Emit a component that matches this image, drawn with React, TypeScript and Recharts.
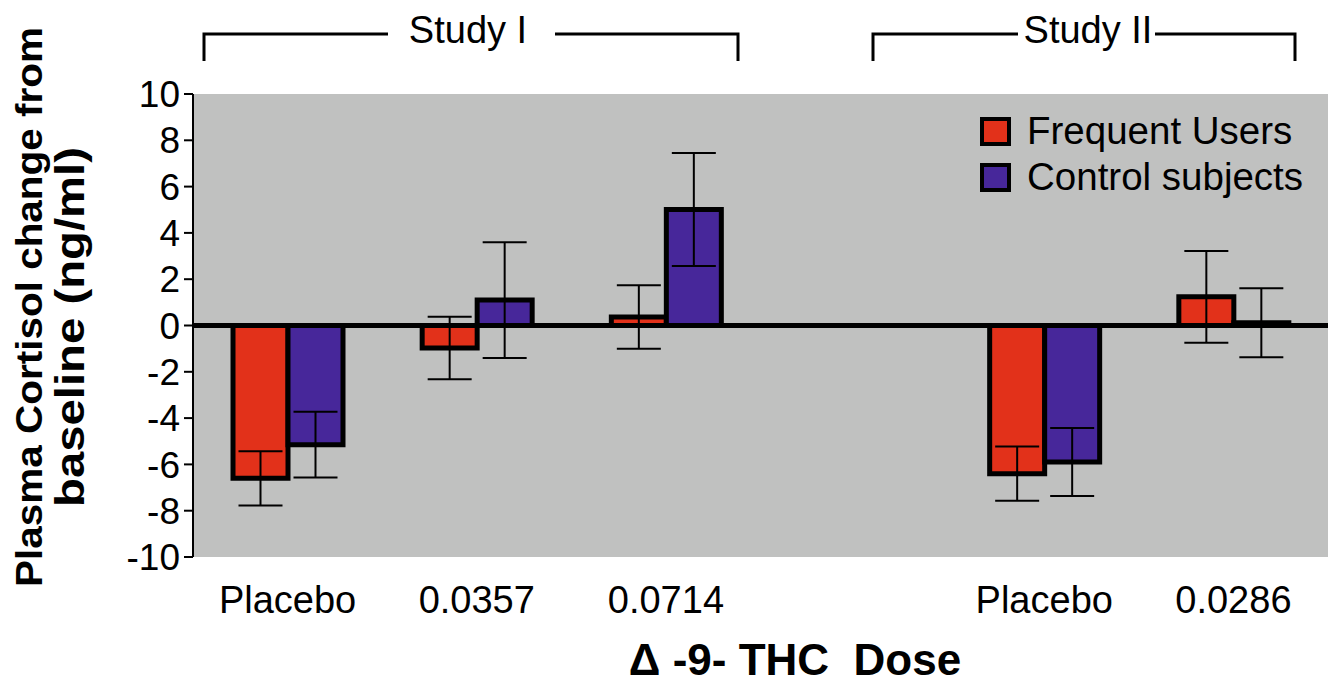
import React from 'react';
import {
  BarChart,
  Bar,
  XAxis,
  YAxis,
  CartesianGrid,
  ErrorBar,
  ReferenceLine,
  Legend,
  Customized,
} from 'recharts';

// ---------- data ----------
const categories = ['Placebo', '0.0357', '0.0714', '', 'Placebo', '0.0286'];
const frequentUsers = [-6.6, -0.97, 0.37, null, -6.4, 1.24];
const frequentUsersErr = [1.17, 1.35, 1.37, null, 1.17, 1.98];
const controlSubjects = [-5.15, 1.1, 5.01, null, -5.9, 0.12];
const controlSubjectsErr = [1.42, 2.5, 2.44, null, 1.47, 1.49];
const yTicks = [-10, -8, -6, -4, -2, 0, 2, 4, 6, 8, 10];
const seriesNames = ['Frequent Users', 'Control subjects'];
const seriesColors = ['#E2311A', '#47279A'];
const studyLabels = ['Study I', 'Study II'];
const yTitleLines = ['Plasma Cortisol change from', 'baseline (ng/ml)'];
const xTitle = '\u0394 -9- THC  Dose';

const data = categories.map((c, i) => ({
  id: 'c' + i,
  label: c,
  fu: frequentUsers[i],
  fuErr: frequentUsersErr[i],
  cs: controlSubjects[i],
  csErr: controlSubjectsErr[i],
}));

const FONT = '"Liberation Sans", Arial, Helvetica, sans-serif';
const W = 1329;
const H = 680;

const XTick = (props: any) => {
  const { x, y, index } = props;
  return (
    <text
      x={x}
      y={y}
      dy={48}
      textAnchor="middle"
      fontFamily={FONT}
      fontSize={38}
      fill="#000"
    >
      {categories[index]}
    </text>
  );
};

const Annotations = () => {
  const br = [
    { l: 196, r: 730, gl: 380, gr: 547, cx: 460 },
    { l: 865, r: 1287, gl: 1010, gr: 1147, cx: 1080 },
  ];
  return (
    <g>
      {br.map((b, i) => (
        <g key={i} stroke="#000" strokeWidth={3} fill="none">
          <polyline points={`${b.l},53 ${b.l},26 ${b.gl},26`} />
          <polyline points={`${b.gr},26 ${b.r},26 ${b.r},53`} />
        </g>
      ))}
      {br.map((b, i) => (
        <text
          key={'t' + i}
          x={b.cx}
          y={35}
          textAnchor="middle"
          fontFamily={FONT}
          fontSize={38}
          fill="#000"
        >
          {studyLabels[i]}
        </text>
      ))}
      <text
        transform="translate(34,299) rotate(-90)"
        textAnchor="middle"
        fontFamily={FONT}
        fontWeight="bold"
        fontSize={37}
        fill="#000"
        textLength={560}
        lengthAdjust="spacingAndGlyphs"
      >
        {yTitleLines[0]}
      </text>
      <text
        transform="translate(76,319) rotate(-90)"
        textAnchor="middle"
        fontFamily={FONT}
        fontWeight="bold"
        fontSize={41}
        fill="#000"
        textLength={360}
        lengthAdjust="spacingAndGlyphs"
      >
        {yTitleLines[1]}
      </text>
      <text
        x={787}
        y={667}
        textAnchor="middle"
        fontFamily={FONT}
        fontWeight="bold"
        fontSize={44}
        fill="#000"
        style={{ whiteSpace: 'pre' }}
      >
        {xTitle}
      </text>
    </g>
  );
};

const LegendContent = () => (
  <div style={{ fontFamily: FONT, fontSize: 38.5, color: '#000' }}>
    {seriesNames.map((n, i) => (
      <div
        key={n}
        style={{ display: 'flex', alignItems: 'center', height: 46, whiteSpace: 'nowrap' }}
      >
        <span
          style={{
            display: 'inline-block',
            width: 23,
            height: 21,
            background: seriesColors[i],
            border: '4px solid #000',
            marginRight: 16,
          }}
        />
        <span>{n}</span>
      </div>
    ))}
  </div>
);

export default function App() {
  return (
    <div style={{ width: W, height: H }}>
      <BarChart
        width={W}
        height={H}
        data={data}
        margin={{ top: 86, right: 9, bottom: 71, left: 0 }}
        barSize={55}
        barGap={0}
      >
        <CartesianGrid fill="#C0C1C0" stroke="none" horizontal={false} vertical={false} />
        <XAxis
          dataKey="id"
          axisLine={false}
          tickLine={false}
          height={60}
          interval={0}
          tick={<XTick />}
        />
        <YAxis
          type="number"
          domain={[-10, 10]}
          ticks={yTicks}
          interval={0}
          width={185}
          tickSize={9}
          tickMargin={4}
          axisLine={{ stroke: '#000', strokeWidth: 2 }}
          tickLine={{ stroke: '#000', strokeWidth: 2 }}
          tick={{ fill: '#000', fontSize: 37, fontFamily: FONT }}
        />
        <Legend
          layout="horizontal"
          verticalAlign="middle"
          align="center"
          content={<LegendContent />}
          wrapperStyle={{ left: 972, top: 100, width: 345, height: 92 }}
        />
        <Bar
          dataKey="fu"
          name={seriesNames[0]}
          fill={seriesColors[0]}
          stroke="#000"
          strokeWidth={5}
          isAnimationActive={false}
        >
          <ErrorBar dataKey="fuErr" width={22} stroke="#000" strokeWidth={2} direction="y" />
        </Bar>
        <Bar
          dataKey="cs"
          name={seriesNames[1]}
          fill={seriesColors[1]}
          stroke="#000"
          strokeWidth={5}
          isAnimationActive={false}
        >
          <ErrorBar dataKey="csErr" width={22} stroke="#000" strokeWidth={2} direction="y" />
        </Bar>
        <ReferenceLine y={0} stroke="#000" strokeWidth={5} />
        <Customized component={<Annotations />} />
      </BarChart>
    </div>
  );
}
